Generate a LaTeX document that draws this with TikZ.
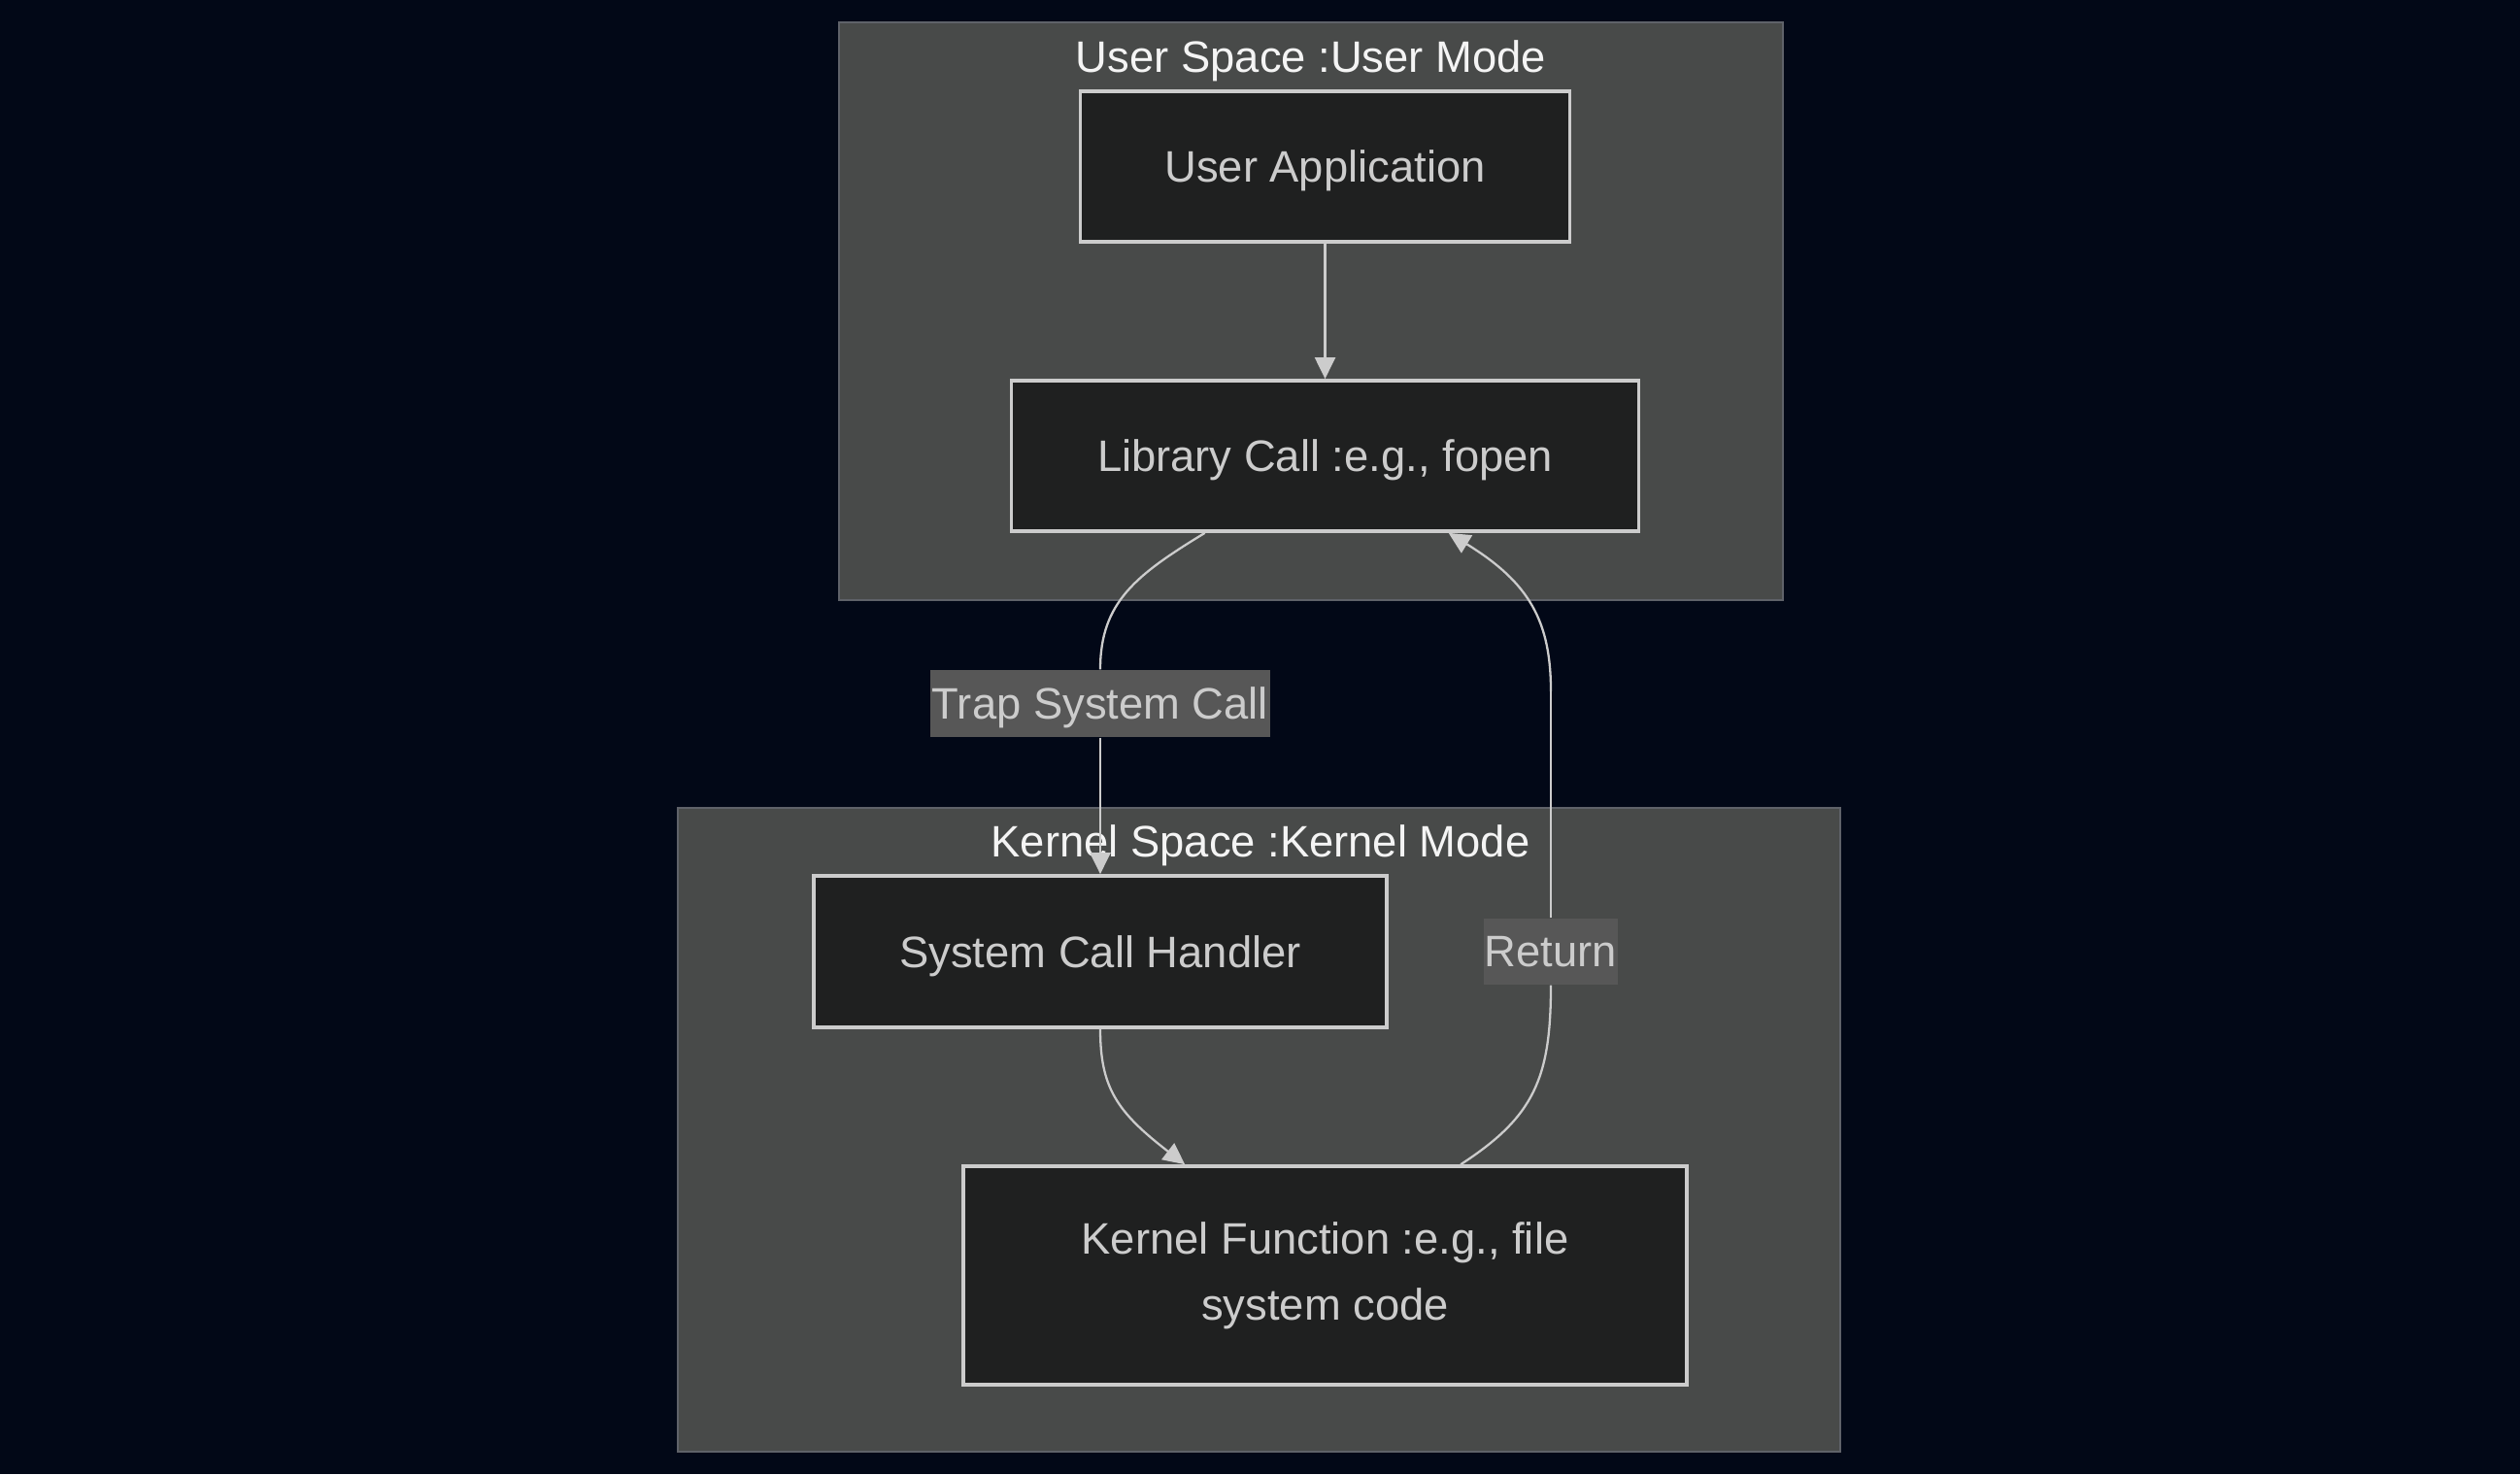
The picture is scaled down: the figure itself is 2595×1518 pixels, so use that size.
\documentclass[tikz,border=0pt]{standalone}
\usepackage{fontspec}
\setmainfont{Liberation Sans}
\usetikzlibrary{arrows.meta,calc}
\definecolor{bgc}{HTML}{020817}
\definecolor{clfill}{HTML}{484A49}
\definecolor{cldraw}{HTML}{5F6269}
\definecolor{ndfill}{HTML}{1F2020}
\definecolor{nddraw}{HTML}{CCCCCC}
\definecolor{lbfill}{HTML}{575757}
\definecolor{txt}{HTML}{CCCCCC}
\definecolor{ttl}{HTML}{F4F4F4}
\tikzset{
  cluster/.style={draw=cldraw, fill=clfill, line width=0.8pt},
  box/.style={draw=nddraw, fill=ndfill, line width=1.05pt, text=txt, inner sep=0pt, align=center,
    font=\fontsize{12.9}{19.4}\selectfont},
  oneline/.style={text depth=0pt},
  ttlstyle/.style={text=ttl, inner sep=0pt, text depth=0pt, font=\fontsize{12.9}{19.4}\selectfont},
  lbl/.style={fill=lbfill, text=txt, inner sep=0pt, text depth=0pt, font=\fontsize{12.9}{19.4}\selectfont},
  conn/.style={draw=nddraw, line width=0.65pt},
  arr/.style={conn, -{Triangle[length=6.3pt,width=6pt]}}
}
\begin{document}
\begin{tikzpicture}[x=0.01cm,y=-0.01cm]
\useasboundingbox (0,0) rectangle (2595,1518);
\fill[bgc] (0,0) rectangle (2595,1518);
% clusters
\draw[cluster] (864,23) rectangle (1836,618);
\node[ttlstyle] (ust) at (1350,58) {User Space :User Mode};
\draw[cluster] (698,832) rectangle (1895,1495);
\node[ttlstyle] (kst) at (1298,866) {Kernel Space :Kernel Mode};
% nodes
\node[box, oneline, minimum width=504*0.01cm, minimum height=155*0.01cm] (ua) at (1364.5,171.5) {User Application};
\node[box, oneline, minimum width=646*0.01cm, minimum height=155*0.01cm] (lc) at (1364.5,469.5) {Library Call :e.g., fopen};
\node[box, oneline, minimum width=590*0.01cm, minimum height=156*0.01cm] (sch) at (1133,980) {System Call Handler};
\node[box, minimum width=745*0.01cm, minimum height=225*0.01cm] (kf) at (1364.5,1313.5) {Kernel Function :e.g., file\\system code};
% labels
\node[lbl, minimum width=350*0.01cm, minimum height=69*0.01cm] (trap) at (1133,724.5) {Trap System Call};
\node[lbl, minimum width=138*0.01cm, minimum height=68*0.01cm] (ret) at (1597,980) {Return};
% edges
\draw[arr] (ua.south) -- (lc.north);
\draw[conn] ($(lc.south west)+(201,0)$) .. controls (1170,592) and (1133,620) .. (trap.north);
\draw[arr] (trap.south) -- (sch.north);
\draw[arr] (sch.south) .. controls (1133,1120) and (1150,1145) .. ($(kf.north west)+(230,0)$);
\draw[conn] ($(kf.north west)+(514,0)$) .. controls (1580,1150) and (1597,1110) .. (ret.south);
\coordinate (rtop) at (1597,712);
\draw[conn] (ret.north) -- (rtop);
\draw[arr] (rtop) .. controls (1597,640) and (1575,600) .. ($(lc.south west)+(452,0)$);
\end{tikzpicture}
\end{document}
